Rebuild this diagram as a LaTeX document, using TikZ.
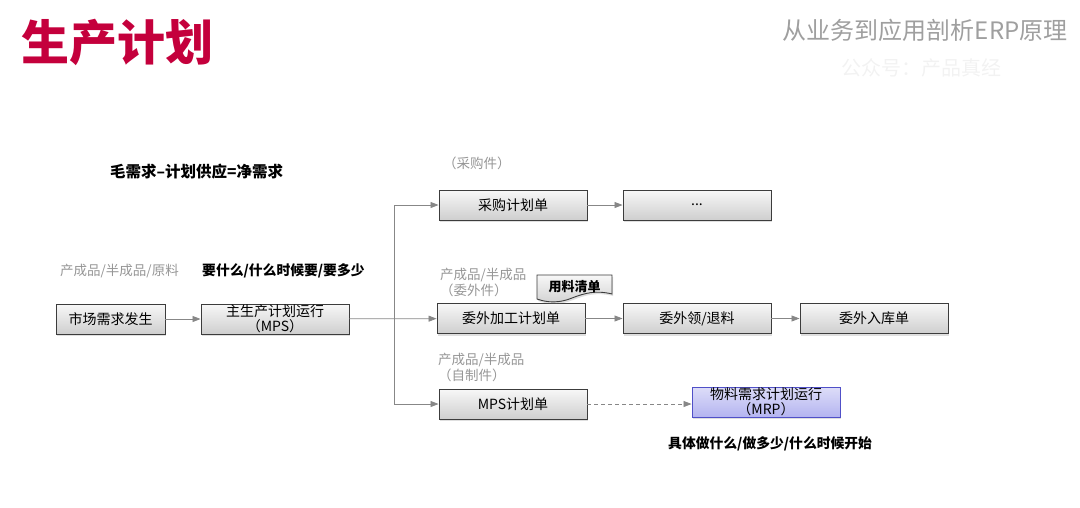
\documentclass[tikz,border=0pt]{standalone}
\usepackage{fontspec}
\setmainfont{Noto Sans CJK SC}
\usetikzlibrary{positioning}
\usetikzlibrary{arrows.meta}
\usetikzlibrary{shadows}
\definecolor{titlered}{RGB}{196,0,60}
\definecolor{linegray}{RGB}{135,135,135}
\definecolor{boxedge}{RGB}{60,60,60}
\definecolor{notegray}{RGB}{150,150,150}
\definecolor{mrpfill}{RGB}{180,180,240}
\definecolor{mrpedge}{RGB}{80,80,200}
\tikzset{
  stepbox/.style={draw=boxedge, line width=0.9pt, top color=gray!6, bottom color=gray!38,
    minimum width=148pt, minimum height=30pt, inner sep=0pt, align=center,
    font=\fontsize{14}{14.5}\selectfont,
    drop shadow={shadow xshift=1pt, shadow yshift=-2pt, opacity=0.25}},
  note/.style={text=notegray, font=\fontsize{13.5}{16}\selectfont, align=left, inner sep=0pt},
  hint/.style={font=\fontsize{13.8}{16}\selectfont\bfseries, inner sep=0pt},
  flow/.style={draw=linegray, line width=0.8pt, -{Triangle[length=8pt,width=6pt]}},
}

\begin{document}
\begin{tikzpicture}[x=1pt, y=-1pt]
    \useasboundingbox (0,0) rectangle (1080,507);

    % header
    \node[anchor=west, text=titlered, font=\fontsize{48}{48}\selectfont\bfseries] (title) at (18,42) {生产计划};
    \node[anchor=east, text=gray!75, font=\fontsize{24}{24}\selectfont] (subtitle) at (1071,30) {从业务到应用剖析ERP原理};
    \node[anchor=east, text=gray!10, font=\fontsize{20}{20}\selectfont] (account) at (1005,68) {公众号：产品真经};

    % texts
    \node[hint, anchor=west, font=\fontsize{15.5}{16}\selectfont\bfseries] (netreq) at (110,172) {毛需求–计划供应=净需求};
    \node[note, anchor=west] (kinds) at (60,271) {产成品/半成品/原料};
    \node[hint, anchor=west] (ask) at (202,271) {要什么/什么时候要/要多少};
    \node[note, anchor=west] (buy) at (443,163) {（采购件）};
    \node[note, anchor=north west] (outkind) at (440,268) {产成品/半成品\\（委外件）};
    \node[note, anchor=north west] (makekind) at (438,353) {产成品/半成品\\（自制件）};
    \node[hint, anchor=west] (detail) at (668,444) {具体做什么/做多少/什么时候开始};

    % boxes
    \node[stepbox, minimum width=109pt] (market) at (110.5,319) {市场需求发生};
    \node[stepbox] (mps) at (275,319) {主生产计划运行\\（MPS）};
    \node[stepbox] (purchase) at (513,205) {采购计划单};
    \node[stepbox] (pnext) at (697,205) {...};
    \node[stepbox] (outplan) at (511,318.5) {委外加工计划单};
    \node[stepbox] (outissue) at (697,318.5) {委外领/退料};
    \node[stepbox] (outstock) at (874,318.5) {委外入库单};
    \node[stepbox] (mpsorder) at (513,404) {MPS计划单};
    \node[stepbox, top color=mrpfill!45, bottom color=mrpfill, draw=mrpedge] (mrp) at (766,402) {物料需求计划运行\\（MRP）};

    % bill of materials tag
    \path[draw=boxedge, line width=0.9pt, top color=gray!6, bottom color=gray!35,
      drop shadow={shadow xshift=1pt, shadow yshift=-2pt, opacity=0.25}]
      (537,275) -- (612,275) -- (612,294)
      .. controls (596,290) and (585,293) .. (572,298)
      .. controls (560,303) and (548,303) .. (537,299) -- cycle;
    \node[font=\fontsize{13}{13}\selectfont\bfseries, inner sep=0pt] (bom) at (574.5,286.5) {用料清单};

    % connectors
    \coordinate (split) at (394,318.5);
    \draw[flow] (market) -- (mps);
    \draw[flow] (mps) -- (outplan);
    \draw[flow] (split) |- (purchase);
    \draw[flow] (split) |- (mpsorder);
    \draw[flow] (purchase) -- (pnext);
    \draw[flow] (outplan) -- (outissue);
    \draw[flow] (outissue) -- (outstock);
    \draw[flow, dash pattern=on 4pt off 3pt] (mpsorder.east) -- (mpsorder.east -| mrp.west);
\end{tikzpicture}
\end{document}
